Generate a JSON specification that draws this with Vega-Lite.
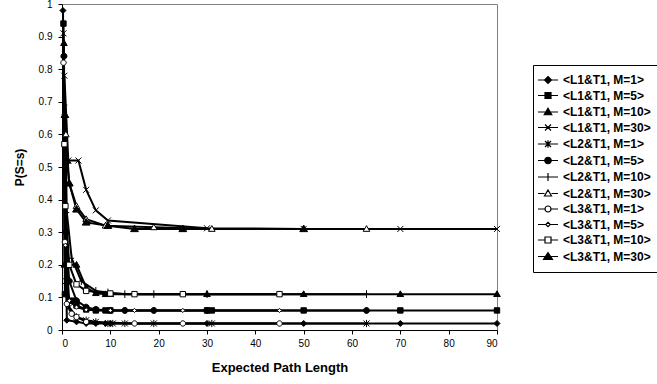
{
  "$schema": "https://vega.github.io/schema/vega-lite/v6.json",
  "width": 435,
  "height": 326,
  "autosize": {"type": "none"},
  "padding": {"left": 62, "top": 4, "right": 160, "bottom": 54},
  "background": "white",
  "config": {
    "font": "Liberation Sans",
    "view": {"stroke": "#808080", "strokeWidth": 1},
    "legend": {
      "title": null,
      "orient": "none",
      "legendX": 471,
      "legendY": 61,
      "strokeColor": "black",
      "fillColor": "white",
      "padding": 9,
      "symbolSize": 100,
      "symbolStrokeWidth": 1.2,
      "symbolOpacity": 1,
      "labelFont": "Liberation Sans",
      "labelFontSize": 12,
      "labelFontWeight": "bold",
      "labelColor": "black",
      "labelOffset": 9,
      "rowPadding": 3.5
    },
    "axis": {
      "grid": false,
      "labelFont": "Liberation Sans",
      "labelFontSize": 10,
      "labelColor": "black",
      "tickColor": "black",
      "domainColor": "black",
      "tickSize": 4,
      "titleFont": "Liberation Sans",
      "titleFontWeight": "bold",
      "titleColor": "black"
    }
  },
  "data": {
    "values": [
      {"s": "<L1&T1, M=1>", "x": 0.2, "y": 0.98},
      {"s": "<L1&T1, M=1>", "x": 1, "y": 0.03},
      {"s": "<L1&T1, M=1>", "x": 3, "y": 0.025},
      {"s": "<L1&T1, M=1>", "x": 5, "y": 0.02},
      {"s": "<L1&T1, M=1>", "x": 7, "y": 0.02},
      {"s": "<L1&T1, M=1>", "x": 9, "y": 0.02},
      {"s": "<L1&T1, M=1>", "x": 10, "y": 0.02},
      {"s": "<L1&T1, M=1>", "x": 30, "y": 0.02},
      {"s": "<L1&T1, M=1>", "x": 50, "y": 0.02},
      {"s": "<L1&T1, M=1>", "x": 70, "y": 0.02},
      {"s": "<L1&T1, M=1>", "x": 90, "y": 0.02},

      {"s": "<L1&T1, M=5>", "x": 0.3, "y": 0.94},
      {"s": "<L1&T1, M=5>", "x": 0.6, "y": 0.11},
      {"s": "<L1&T1, M=5>", "x": 2, "y": 0.09},
      {"s": "<L1&T1, M=5>", "x": 3, "y": 0.075},
      {"s": "<L1&T1, M=5>", "x": 5, "y": 0.063},
      {"s": "<L1&T1, M=5>", "x": 7, "y": 0.06},
      {"s": "<L1&T1, M=5>", "x": 9, "y": 0.06},
      {"s": "<L1&T1, M=5>", "x": 10, "y": 0.06},
      {"s": "<L1&T1, M=5>", "x": 30, "y": 0.06},
      {"s": "<L1&T1, M=5>", "x": 31, "y": 0.06},
      {"s": "<L1&T1, M=5>", "x": 50, "y": 0.06},
      {"s": "<L1&T1, M=5>", "x": 70, "y": 0.06},
      {"s": "<L1&T1, M=5>", "x": 90, "y": 0.06},

      {"s": "<L1&T1, M=10>", "x": 0.4, "y": 0.88},
      {"s": "<L1&T1, M=10>", "x": 0.5, "y": 0.2},
      {"s": "<L1&T1, M=10>", "x": 3, "y": 0.2},
      {"s": "<L1&T1, M=10>", "x": 5, "y": 0.13},
      {"s": "<L1&T1, M=10>", "x": 7, "y": 0.113},
      {"s": "<L1&T1, M=10>", "x": 9, "y": 0.11},
      {"s": "<L1&T1, M=10>", "x": 10, "y": 0.11},
      {"s": "<L1&T1, M=10>", "x": 30, "y": 0.11},
      {"s": "<L1&T1, M=10>", "x": 50, "y": 0.11},
      {"s": "<L1&T1, M=10>", "x": 70, "y": 0.11},
      {"s": "<L1&T1, M=10>", "x": 90, "y": 0.11},

      {"s": "<L1&T1, M=30>", "x": 0.5, "y": 0.78},
      {"s": "<L1&T1, M=30>", "x": 1.3, "y": 0.52},
      {"s": "<L1&T1, M=30>", "x": 3.4, "y": 0.52},
      {"s": "<L1&T1, M=30>", "x": 5, "y": 0.43},
      {"s": "<L1&T1, M=30>", "x": 7, "y": 0.367},
      {"s": "<L1&T1, M=30>", "x": 9.5, "y": 0.336},
      {"s": "<L1&T1, M=30>", "x": 30, "y": 0.312},
      {"s": "<L1&T1, M=30>", "x": 50, "y": 0.31},
      {"s": "<L1&T1, M=30>", "x": 70, "y": 0.31},
      {"s": "<L1&T1, M=30>", "x": 90, "y": 0.31},

      {"s": "<L2&T1, M=1>", "x": 0.3, "y": 0.91},
      {"s": "<L2&T1, M=1>", "x": 0.8, "y": 0.15},
      {"s": "<L2&T1, M=1>", "x": 1.5, "y": 0.07},
      {"s": "<L2&T1, M=1>", "x": 3, "y": 0.04},
      {"s": "<L2&T1, M=1>", "x": 5, "y": 0.03},
      {"s": "<L2&T1, M=1>", "x": 7, "y": 0.025},
      {"s": "<L2&T1, M=1>", "x": 9.5, "y": 0.02},
      {"s": "<L2&T1, M=1>", "x": 10.5, "y": 0.02},
      {"s": "<L2&T1, M=1>", "x": 13, "y": 0.02},
      {"s": "<L2&T1, M=1>", "x": 19, "y": 0.02},
      {"s": "<L2&T1, M=1>", "x": 31, "y": 0.02},
      {"s": "<L2&T1, M=1>", "x": 63, "y": 0.02},

      {"s": "<L2&T1, M=5>", "x": 0.4, "y": 0.84},
      {"s": "<L2&T1, M=5>", "x": 0.8, "y": 0.3},
      {"s": "<L2&T1, M=5>", "x": 1.5, "y": 0.15},
      {"s": "<L2&T1, M=5>", "x": 3, "y": 0.09},
      {"s": "<L2&T1, M=5>", "x": 5, "y": 0.07},
      {"s": "<L2&T1, M=5>", "x": 7, "y": 0.063},
      {"s": "<L2&T1, M=5>", "x": 10, "y": 0.06},
      {"s": "<L2&T1, M=5>", "x": 13, "y": 0.06},
      {"s": "<L2&T1, M=5>", "x": 19, "y": 0.06},
      {"s": "<L2&T1, M=5>", "x": 30, "y": 0.06},
      {"s": "<L2&T1, M=5>", "x": 63, "y": 0.06},

      {"s": "<L2&T1, M=10>", "x": 0.6, "y": 0.69},
      {"s": "<L2&T1, M=10>", "x": 1, "y": 0.36},
      {"s": "<L2&T1, M=10>", "x": 2, "y": 0.22},
      {"s": "<L2&T1, M=10>", "x": 4, "y": 0.15},
      {"s": "<L2&T1, M=10>", "x": 7, "y": 0.12},
      {"s": "<L2&T1, M=10>", "x": 9.5, "y": 0.115},
      {"s": "<L2&T1, M=10>", "x": 13, "y": 0.11},
      {"s": "<L2&T1, M=10>", "x": 19, "y": 0.11},
      {"s": "<L2&T1, M=10>", "x": 30, "y": 0.11},
      {"s": "<L2&T1, M=10>", "x": 63, "y": 0.11},

      {"s": "<L2&T1, M=30>", "x": 0.8, "y": 0.6},
      {"s": "<L2&T1, M=30>", "x": 1.5, "y": 0.45},
      {"s": "<L2&T1, M=30>", "x": 3, "y": 0.38},
      {"s": "<L2&T1, M=30>", "x": 5, "y": 0.34},
      {"s": "<L2&T1, M=30>", "x": 9, "y": 0.32},
      {"s": "<L2&T1, M=30>", "x": 19, "y": 0.315},
      {"s": "<L2&T1, M=30>", "x": 31, "y": 0.31},
      {"s": "<L2&T1, M=30>", "x": 63, "y": 0.31},

      {"s": "<L3&T1, M=1>", "x": 0.3, "y": 0.82},
      {"s": "<L3&T1, M=1>", "x": 0.6, "y": 0.27},
      {"s": "<L3&T1, M=1>", "x": 1, "y": 0.08},
      {"s": "<L3&T1, M=1>", "x": 2, "y": 0.05},
      {"s": "<L3&T1, M=1>", "x": 3, "y": 0.04},
      {"s": "<L3&T1, M=1>", "x": 5, "y": 0.025},
      {"s": "<L3&T1, M=1>", "x": 15, "y": 0.02},
      {"s": "<L3&T1, M=1>", "x": 25, "y": 0.02},
      {"s": "<L3&T1, M=1>", "x": 45, "y": 0.02},

      {"s": "<L3&T1, M=5>", "x": 0.4, "y": 0.66},
      {"s": "<L3&T1, M=5>", "x": 0.7, "y": 0.26},
      {"s": "<L3&T1, M=5>", "x": 1.5, "y": 0.09},
      {"s": "<L3&T1, M=5>", "x": 3, "y": 0.07},
      {"s": "<L3&T1, M=5>", "x": 5, "y": 0.062},
      {"s": "<L3&T1, M=5>", "x": 10, "y": 0.06},
      {"s": "<L3&T1, M=5>", "x": 15, "y": 0.06},
      {"s": "<L3&T1, M=5>", "x": 25, "y": 0.06},
      {"s": "<L3&T1, M=5>", "x": 45, "y": 0.06},

      {"s": "<L3&T1, M=10>", "x": 0.5, "y": 0.57},
      {"s": "<L3&T1, M=10>", "x": 0.7, "y": 0.38},
      {"s": "<L3&T1, M=10>", "x": 1.5, "y": 0.2},
      {"s": "<L3&T1, M=10>", "x": 3, "y": 0.14},
      {"s": "<L3&T1, M=10>", "x": 5, "y": 0.12},
      {"s": "<L3&T1, M=10>", "x": 10, "y": 0.112},
      {"s": "<L3&T1, M=10>", "x": 15, "y": 0.11},
      {"s": "<L3&T1, M=10>", "x": 25, "y": 0.11},
      {"s": "<L3&T1, M=10>", "x": 45, "y": 0.11},

      {"s": "<L3&T1, M=30>", "x": 0.6, "y": 0.66},
      {"s": "<L3&T1, M=30>", "x": 1, "y": 0.52},
      {"s": "<L3&T1, M=30>", "x": 1.5, "y": 0.45},
      {"s": "<L3&T1, M=30>", "x": 3, "y": 0.37},
      {"s": "<L3&T1, M=30>", "x": 5, "y": 0.33},
      {"s": "<L3&T1, M=30>", "x": 9.5, "y": 0.32},
      {"s": "<L3&T1, M=30>", "x": 15, "y": 0.31},
      {"s": "<L3&T1, M=30>", "x": 25, "y": 0.31},
      {"s": "<L3&T1, M=30>", "x": 50, "y": 0.31}
    ]
  },
  "encoding": {
    "x": {
      "field": "x",
      "type": "quantitative",
      "scale": {"domain": [0, 90], "nice": false},
      "axis": {
        "values": [0, 10, 20, 30, 40, 50, 60, 70, 80, 90],
        "title": "Expected Path Length",
        "titleFontSize": 13,
        "titlePadding": 13,
        "labelPadding": 4
      }
    },
    "y": {
      "field": "y",
      "type": "quantitative",
      "scale": {"domain": [0, 1], "nice": false},
      "axis": {
        "values": [0, 0.1, 0.2, 0.3, 0.4, 0.5, 0.6, 0.7, 0.8, 0.9, 1],
        "format": "~g",
        "title": "P(S=s)",
        "titleFontSize": 12,
        "titlePadding": 12,
        "labelPadding": 6
      }
    }
  },
  "layer": [
    {
      "mark": {"type": "line", "color": "black", "strokeWidth": 2},
      "encoding": {"detail": {"field": "s"}}
    },
    {
      "mark": {"type": "point", "filled": true, "stroke": "black", "strokeWidth": 1, "size": 36, "opacity": 1},
      "encoding": {
        "shape": {
          "field": "s",
          "scale": {
            "domain": ["<L1&T1, M=1>", "<L1&T1, M=5>", "<L1&T1, M=10>", "<L1&T1, M=30>", "<L2&T1, M=1>", "<L2&T1, M=5>", "<L2&T1, M=10>", "<L2&T1, M=30>", "<L3&T1, M=1>", "<L3&T1, M=5>", "<L3&T1, M=10>", "<L3&T1, M=30>"],
            "range": [
              "M0,-1L1,0L0,1L-1,0Z",
              "M-0.9,-0.9H0.9V0.9H-0.9Z",
              "M0,-1.1L1.1,0.8H-1.1Z",
              "M-1,-1L1,1M-1,1L1,-1",
              "M-1,-1L1,1M-1,1L1,-1M0,-1.2V1.2",
              "M-1,0A1,1,0,1,1,1,0A1,1,0,1,1,-1,0Z",
              "M0,-1.3V1.3M-0.8,0H0.8",
              "M0,-1.1L1.1,0.8H-1.1Z",
              "M-0.9,0A0.9,0.9,0,1,1,0.9,0A0.9,0.9,0,1,1,-0.9,0Z",
              "M0,-0.7L0.7,0L0,0.7L-0.7,0Z",
              "M-0.9,-0.9H0.9V0.9H-0.9Z",
              "M0,-1.3L1.3,0.9H-1.3Z"
            ]
          },
          "legend": null
        },
        "fill": {
          "field": "s",
          "scale": {
            "domain": ["<L1&T1, M=1>", "<L1&T1, M=5>", "<L1&T1, M=10>", "<L1&T1, M=30>", "<L2&T1, M=1>", "<L2&T1, M=5>", "<L2&T1, M=10>", "<L2&T1, M=30>", "<L3&T1, M=1>", "<L3&T1, M=5>", "<L3&T1, M=10>", "<L3&T1, M=30>"],
            "range": ["black", "black", "black", "black", "black", "black", "black", "white", "white", "white", "white", "black"]
          },
          "legend": null
        }
      }
    },
    {
      "mark": {"type": "point", "filled": false, "strokeWidth": 1.2, "opacity": 0},
      "encoding": {
        "shape": {
          "field": "s",
          "scale": {
            "domain": ["<L1&T1, M=1>", "<L1&T1, M=5>", "<L1&T1, M=10>", "<L1&T1, M=30>", "<L2&T1, M=1>", "<L2&T1, M=5>", "<L2&T1, M=10>", "<L2&T1, M=30>", "<L3&T1, M=1>", "<L3&T1, M=5>", "<L3&T1, M=10>", "<L3&T1, M=30>"],
            "range": [
              "M-2,0H2M0,-0.7L0.7,0L0,0.7L-0.7,0Z",
              "M-2,0H2M-0.6,-0.6H0.6V0.6H-0.6Z",
              "M-2,0H2M0,-0.75L0.75,0.55H-0.75Z",
              "M-2,0H2M-0.6,-0.6L0.6,0.6M-0.6,0.6L0.6,-0.6",
              "M-2,0H2M-0.6,-0.6L0.6,0.6M-0.6,0.6L0.6,-0.6M0,-0.75V0.75",
              "M-2,0H2M-0.65,0A0.65,0.65,0,1,1,0.65,0A0.65,0.65,0,1,1,-0.65,0Z",
              "M-2,0H2M0,-0.8V0.8",
              "M-2,0H-0.7M0.7,0H2M0,-0.7L0.7,0.5H-0.7Z",
              "M-2,0H-0.6M0.6,0H2M-0.6,0A0.6,0.6,0,1,1,0.6,0A0.6,0.6,0,1,1,-0.6,0Z",
              "M-2,0H-0.45M0.45,0H2M0,-0.45L0.45,0L0,0.45L-0.45,0Z",
              "M-2,0H-0.6M0.6,0H2M-0.6,-0.6H0.6V0.6H-0.6Z",
              "M-2,0H2M0,-0.8L0.9,0.6H-0.9Z"
            ]
          }
        },
        "fill": {
          "field": "s",
          "scale": {
            "domain": ["<L1&T1, M=1>", "<L1&T1, M=5>", "<L1&T1, M=10>", "<L1&T1, M=30>", "<L2&T1, M=1>", "<L2&T1, M=5>", "<L2&T1, M=10>", "<L2&T1, M=30>", "<L3&T1, M=1>", "<L3&T1, M=5>", "<L3&T1, M=10>", "<L3&T1, M=30>"],
            "range": ["black", "black", "black", "black", "black", "black", "black", "white", "white", "white", "white", "black"]
          }
        },
        "stroke": {
          "field": "s",
          "scale": {
            "domain": ["<L1&T1, M=1>", "<L1&T1, M=5>", "<L1&T1, M=10>", "<L1&T1, M=30>", "<L2&T1, M=1>", "<L2&T1, M=5>", "<L2&T1, M=10>", "<L2&T1, M=30>", "<L3&T1, M=1>", "<L3&T1, M=5>", "<L3&T1, M=10>", "<L3&T1, M=30>"],
            "range": ["black", "black", "black", "black", "black", "black", "black", "black", "black", "black", "black", "black"]
          }
        }
      }
    }
  ],
  "resolve": {"scale": {"shape": "independent", "fill": "independent", "stroke": "independent"}}
}
